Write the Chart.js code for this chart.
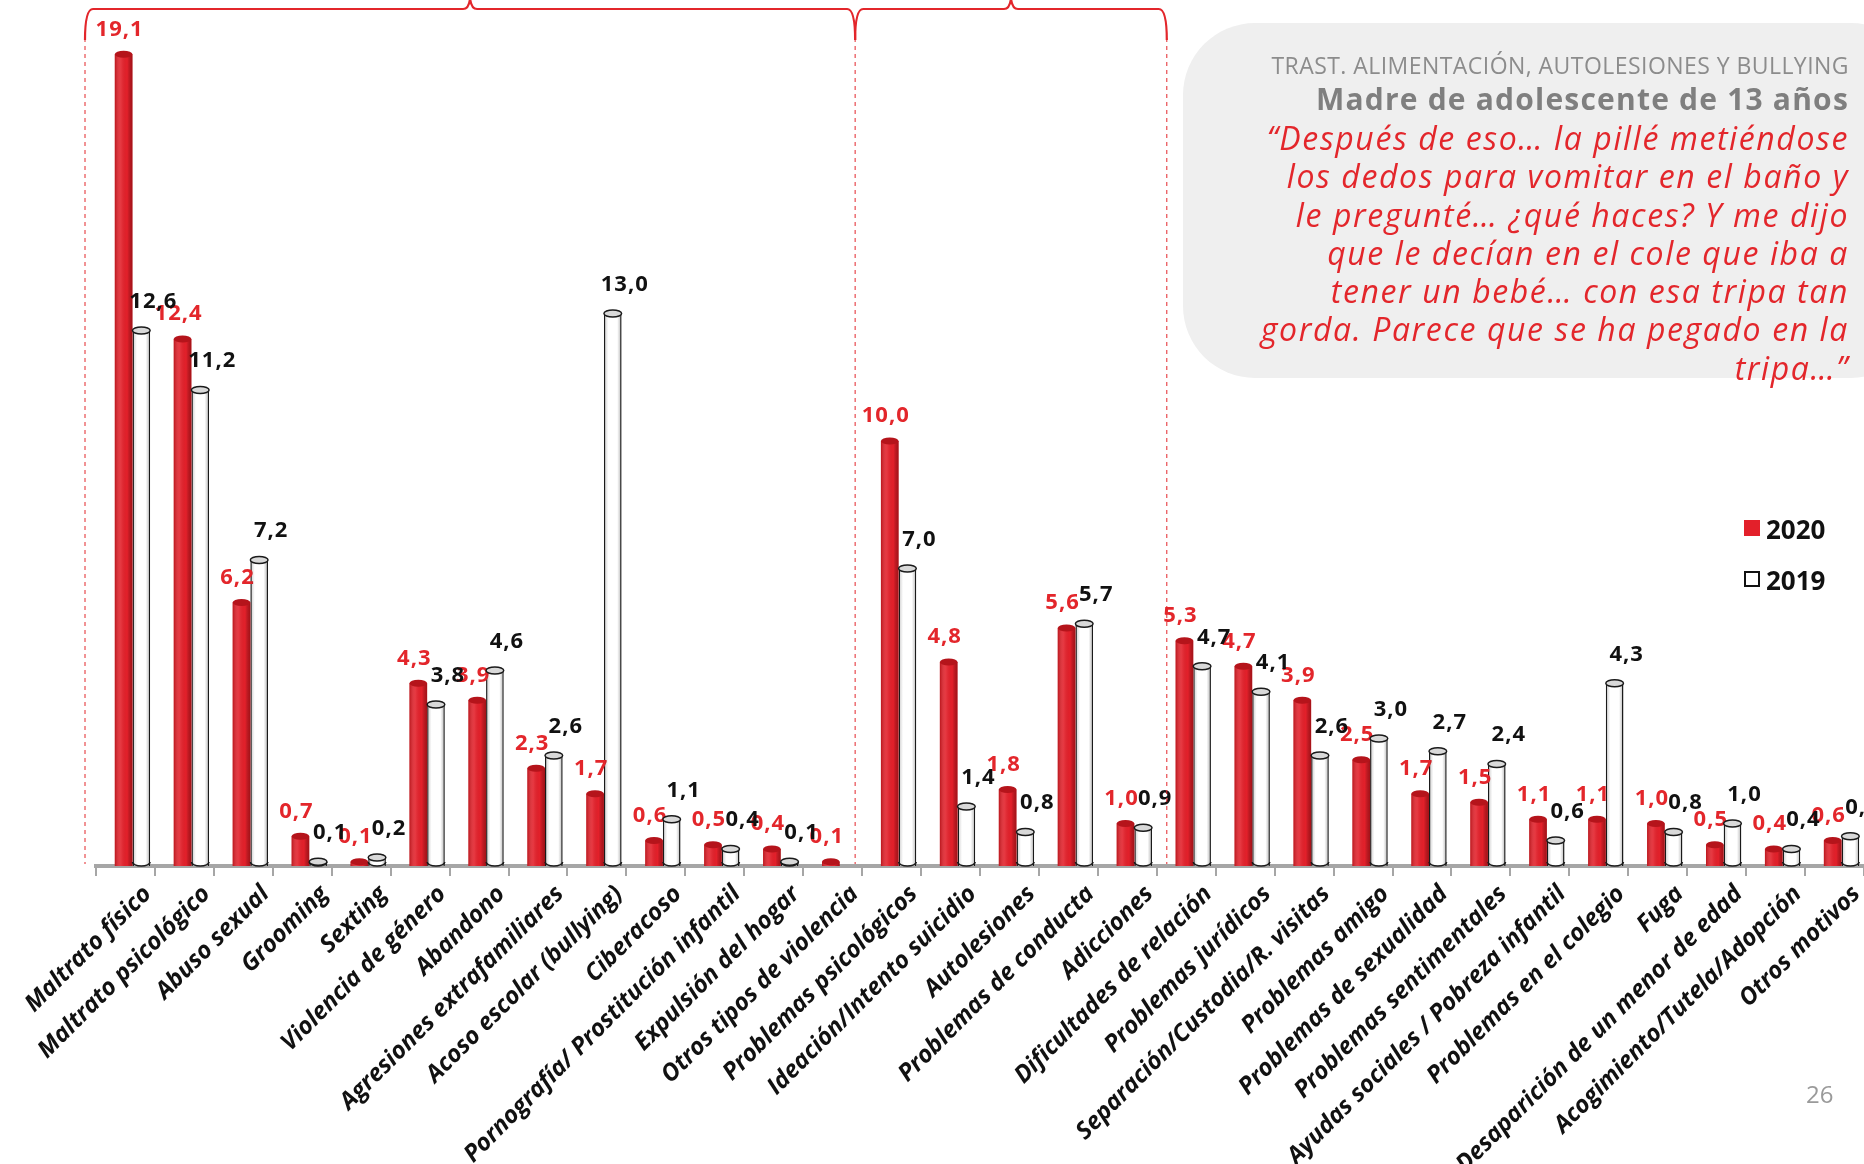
<!DOCTYPE html>
<html>
<head>
<meta charset="utf-8">
<script src="https://cdn.jsdelivr.net/npm/chart.js@4"></script>
<style>
  body { margin: 0; background: #fff; overflow: hidden; }
  #wrap { position: relative; width: 1864px; height: 1164px; overflow: hidden; }
  #chartBox { position: absolute; left: 0; top: 0; width: 1864px; height: 1164px; }
  .quote { position: absolute; left: 1183px; top: 23px; width: 740px; height: 355px; background: #efefef; border-radius: 72px; }
  .qtxt { position: absolute; right: 15px; white-space: nowrap; text-align: right; font-family: "Open Sans", sans-serif; }
  .l1 { top: 52px; font-size: 23px; line-height: 26px; letter-spacing: 0.45px; color: #8c8c8c; }
  .l2 { top: 82px; font-size: 30px; line-height: 34px; letter-spacing: 1.2px; color: #7f7f7f; font-weight: bold; }
  .lq { top: 119px; font-size: 32px; line-height: 38.3px; letter-spacing: 1.6px; color: #e3262b; font-style: italic; }
  .sq { position: absolute; left: 1744px; width: 16px; height: 16px; box-sizing: border-box; }
  .legt { position: absolute; left: 1766px; font: bold 26px/26px "Open Sans", sans-serif; color: #111; }
  .page { position: absolute; left: 1806px; top: 1082px; font: 24px/24px "Open Sans", sans-serif; color: #9a9a9a; }
</style>
</head>
<body>
<div id="wrap">
  <div id="chartBox"><canvas id="motivosChart"></canvas></div>

  <div class="quote"></div>
  <div class="qtxt l1">TRAST. ALIMENTACIÓN, AUTOLESIONES Y BULLYING</div>
  <div class="qtxt l2">Madre de adolescente de 13 años</div>
  <div class="qtxt lq">“Después de eso… la pillé metiéndose<br>los dedos para vomitar en el baño y<br>le pregunté… ¿qué haces? Y me dijo<br>que le decían en el cole que iba a<br>tener un bebé… con esa tripa tan<br>gorda. Parece que se ha pegado en la<br>tripa…”</div>

  <div class="sq" style="top:520px;background:#e3202a;"></div>
  <div class="legt" style="top:516px;">2020</div>
  <div class="sq" style="top:571px;border:2px solid #111;background:#fff;"></div>
  <div class="legt" style="top:567px;">2019</div>

  <div class="page">26</div>
</div>

<script>
const categories = [
  "Maltrato físico", "Maltrato psicológico", "Abuso sexual", "Grooming", "Sexting",
  "Violencia de género", "Abandono", "Agresiones extrafamiliares", "Acoso escolar (bullying)",
  "Ciberacoso", "Pornografía/ Prostitución infantil", "Expulsión del hogar",
  "Otros tipos de violencia", "Problemas psicológicos", "Ideación/Intento suicidio",
  "Autolesiones", "Problemas de conducta", "Adicciones", "Dificultades de relación",
  "Problemas jurídicos", "Separación/Custodia/R. visitas", "Problemas amigo",
  "Problemas de sexualidad", "Problemas sentimentales", "Ayudas sociales / Pobreza infantil",
  "Problemas en el colegio", "Fuga", "Desaparición de un menor de edad",
  "Acogimiento/Tutela/Adopción", "Otros motivos"
];
const values2020 = [
  19.1, 12.4, 6.2, 0.7, 0.1, 4.3, 3.9, 2.3, 1.7, 0.6, 0.5, 0.4, 0.1,
  10.0, 4.8, 1.8, 5.6, 1.0,
  5.3, 4.7, 3.9, 2.5, 1.7, 1.5, 1.1, 1.1, 1.0, 0.5, 0.4, 0.6
];
const values2019 = [
  12.6, 11.2, 7.2, 0.1, 0.2, 3.8, 4.6, 2.6, 13.0, 1.1, 0.4, 0.1, null,
  7.0, 1.4, 0.8, 5.7, 0.9,
  4.7, 4.1, 2.6, 3.0, 2.7, 2.4, 0.6, 4.3, 0.8, 1.0, 0.4, 0.7
];
// group separators: [category boundary, px nudge]
const groupBounds = [[0, -11], [13, -7], [18, 10]];

const RED = '#e3202a';
const LABEL_RED = '#e3262b';

function fmt(v) {
  return v.toFixed(1).replace('.', ',');
}

// cylinder look + value labels
const cylinders = {
  id: 'cylinders',
  afterDatasetsUpdate(chart) {
    chart.data.datasets.forEach((ds, i) => {
      chart.getDatasetMeta(i).data.forEach(bar => { bar.x += 7; });
    });
  },
  afterDatasetsDraw(chart) {
    const ctx = chart.ctx;
    chart.data.datasets.forEach((ds, i) => {
      const meta = chart.getDatasetMeta(i);
      meta.data.forEach((bar, j) => {
        if (ds.data[j] == null) return;
        const w = bar.width, x = bar.x, top = bar.y, base = bar.base;
        const l = x - w / 2;
        ctx.save();
        // side shading
        const g = ctx.createLinearGradient(l, 0, l + w, 0);
        if (i === 0) {
          g.addColorStop(0, 'rgba(110,0,0,0.35)');
          g.addColorStop(0.35, 'rgba(255,255,255,0.10)');
          g.addColorStop(0.7, 'rgba(0,0,0,0)');
          g.addColorStop(1, 'rgba(90,0,0,0.45)');
          ctx.fillStyle = g;
          ctx.fillRect(l, top, w, base - top);
        } else {
          g.addColorStop(0, 'rgba(0,0,0,0.22)');
          g.addColorStop(0.25, 'rgba(0,0,0,0)');
          g.addColorStop(0.75, 'rgba(0,0,0,0)');
          g.addColorStop(1, 'rgba(0,0,0,0.3)');
          ctx.fillStyle = g;
          ctx.fillRect(l + 1.5, top, w - 3, base - top);
          // rounded bottom
          ctx.beginPath();
          ctx.ellipse(x, base - 4, w / 2, 4, 0, 0, Math.PI);
          ctx.strokeStyle = '#1a1a1a';
          ctx.lineWidth = 1.5;
          ctx.stroke();
        }
        // top cap
        ctx.beginPath();
        ctx.ellipse(x, top, w / 2, 3.5, 0, 0, Math.PI * 2);
        if (i === 0) {
          ctx.fillStyle = '#b5141b';
          ctx.fill();
        } else {
          ctx.fillStyle = '#d9d9d9';
          ctx.fill();
          ctx.strokeStyle = '#1a1a1a';
          ctx.lineWidth = 1.5;
          ctx.stroke();
        }
        // value label
        ctx.font = 'bold 22px "Open Sans", sans-serif';
        ctx.letterSpacing = '1px';
        ctx.textAlign = 'center';
        ctx.textBaseline = 'middle';
        if (i === 0) {
          ctx.fillStyle = LABEL_RED;
          ctx.fillText(fmt(ds.data[j]), x - 4, top - 25);
        } else {
          ctx.fillStyle = '#111';
          ctx.fillText(fmt(ds.data[j]), x + 12, top - 29);
        }
        ctx.restore();
      });
    });
  },
  afterDraw(chart) {
    const ctx = chart.ctx;
    const xs = chart.scales.x;
    const half = (xs.getPixelForValue(1) - xs.getPixelForValue(0)) / 2;
    const bottom = chart.chartArea.bottom;
    const px = groupBounds.map(([b, d]) => xs.getPixelForValue(b) - half + d);
    ctx.save();
    ctx.strokeStyle = '#e3262b';
    // dashed separators
    ctx.setLineDash([4, 4]);
    ctx.lineWidth = 1;
    px.forEach(x => {
      ctx.beginPath();
      ctx.moveTo(x, 38);
      ctx.lineTo(x, bottom - 2);
      ctx.stroke();
    });
    // curly brackets over the groups
    ctx.setLineDash([]);
    ctx.lineWidth = 2.2;
    for (let k = 0; k < px.length - 1; k++) {
      const a = px[k], b = px[k + 1], m = (a + b) / 2, t = 9;
      ctx.beginPath();
      ctx.moveTo(a, 40);
      ctx.quadraticCurveTo(a, t, a + 8, t);
      ctx.lineTo(m - 7, t);
      ctx.quadraticCurveTo(m - 1, t, m, -2);
      ctx.quadraticCurveTo(m + 1, t, m + 7, t);
      ctx.lineTo(b - 8, t);
      ctx.quadraticCurveTo(b, t, b, 40);
      ctx.stroke();
    }
    ctx.restore();
  }
};

const motivosChart = new Chart(document.getElementById('motivosChart').getContext('2d'), {
  type: 'bar',
  data: {
    labels: categories,
    datasets: [{
      label: '2020',
      data: values2020,
      backgroundColor: RED,
      borderWidth: 0,
      barPercentage: 1.0,
      categoryPercentage: 0.6
    }, {
      label: '2019',
      data: values2019,
      backgroundColor: '#ffffff',
      borderColor: '#1a1a1a',
      borderWidth: { left: 1.5, right: 1.5, top: 1.5, bottom: 0 },
      barPercentage: 1.0,
      categoryPercentage: 0.6
    }]
  },
  options: {
    responsive: true,
    maintainAspectRatio: false,
    animation: false,
    layout: { padding: { left: 96, right: 0, top: 16, bottom: 0 } },
    plugins: {
      legend: { display: false },
      tooltip: { enabled: false }
    },
    scales: {
      x: {
        afterFit(scale) { scale.height = 298; },
        border: { display: true, color: '#a6a6a6', width: 4 },
        grid: { display: true, drawOnChartArea: false, drawTicks: true, tickLength: 10, color: '#a6a6a6', lineWidth: 2 },
        ticks: {
          autoSkip: false,
          maxRotation: 45,
          minRotation: 45,
          labelOffset: 22,
          padding: 4,
          color: '#111',
          font: { family: '"Open Sans", sans-serif', size: 24, weight: 'bold', style: 'italic' }
        }
      },
      y: {
        display: false,
        min: 0,
        max: 20
      }
    }
  },
  plugins: [cylinders]
});
</script>
</body>
</html>
